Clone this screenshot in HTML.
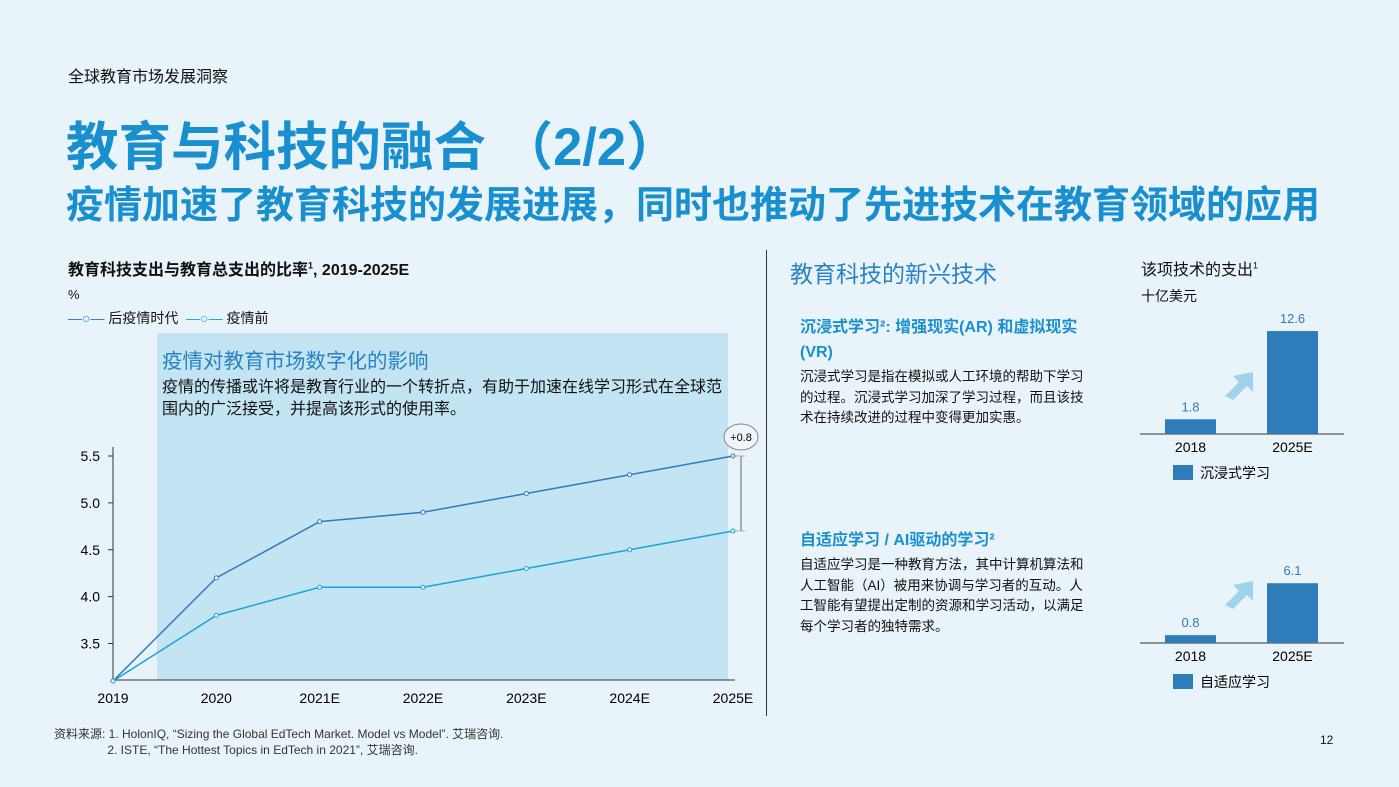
<!DOCTYPE html>
<html><head><meta charset="utf-8">
<style>
body{margin:0;width:1399px;height:787px;overflow:hidden;background:#e8f4f9;font-family:"Liberation Sans","Noto Sans CJK SC",sans-serif;position:relative;color:#111}
.a{position:absolute;white-space:nowrap}
</style></head><body>
<div class="a" style="left:68px;top:63px;font-size:16px">全球教育市场发展洞察</div>
<div class="a" style="left:66px;top:105px;font-size:52.5px;color:#1a8fd0;font-weight:bold">教育与科技的融合 （2/2）</div>
<div class="a" style="left:66px;top:174px;font-size:38px;color:#1a8fd0;font-weight:bold">疫情加速了教育科技的发展进展，同时也推动了先进技术在教育领域的应用</div>
<div class="a" style="left:68px;top:256px;font-size:16px;font-weight:bold">教育科技支出与教育总支出的比率<sup style="font-size:9px">1</sup>, 2019-2025E</div>
<div class="a" style="left:68px;top:287px;font-size:13px">%</div>
<div class="a" style="left:68px;top:308px;font-size:14px">
<span style="color:#2f7cbf">—○—</span> 后疫情时代 &nbsp;<span style="color:#1ba3dc">—○—</span> 疫情前</div>
<svg class="a" id="chart" style="left:0;top:0" width="780" height="720"></svg>
<div class="a" style="left:162px;top:344px;font-size:20.5px;color:#2a82c4">疫情对教育市场数字化的影响</div>
<div class="a" style="left:162px;top:377px;font-size:16px;line-height:22px">疫情的传播或许将是教育行业的一个转折点，有助于加速在线学习形式在全球范<br>围内的广泛接受，并提高该形式的使用率。</div>
<div class="a" style="left:766px;top:250px;width:1px;height:466px;background:#333"></div>
<div class="a" style="left:790px;top:255px;font-size:23px;color:#2a82c4">教育科技的新兴技术</div>
<div class="a" style="left:800px;top:315px;font-size:16px;color:#1a8fd0;line-height:25px;font-weight:bold">沉浸式学习²: 增强现实(AR) 和虚拟现实<br>(VR)</div>
<div class="a" style="left:800px;top:367px;font-size:13.5px;line-height:20.5px">沉浸式学习是指在模拟或人工环境的帮助下学习<br>的过程。沉浸式学习加深了学习过程，而且该技<br>术在持续改进的过程中变得更加实惠。</div>
<div class="a" style="left:800px;top:526px;font-size:16px;color:#1a8fd0;font-weight:bold">自适应学习 / AI驱动的学习²</div>
<div class="a" style="left:800px;top:555px;font-size:13.5px;line-height:20.5px">自适应学习是一种教育方法，其中计算机算法和<br>人工智能（AI）被用来协调与学习者的互动。人<br>工智能有望提出定制的资源和学习活动，以满足<br>每个学习者的独特需求。</div>
<div class="a" style="left:1141px;top:256px;font-size:16px">该项技术的支出<sup style="font-size:9px">1</sup></div>
<div class="a" style="left:1141px;top:286px;font-size:14px">十亿美元</div>
<svg class="a" id="bars" style="left:1120px;top:290px" width="279" height="410"></svg>
<div class="a" style="left:54px;top:726px;font-size:12px;line-height:16px;color:#333">资料来源: 1. HolonIQ, “Sizing the Global EdTech Market. Model vs Model”. 艾瑞咨询.<br>&nbsp;&nbsp;&nbsp;&nbsp;&nbsp;&nbsp;&nbsp;&nbsp;&nbsp;&nbsp;&nbsp;&nbsp;&nbsp;&nbsp;&nbsp;&nbsp;2. ISTE, “The Hottest Topics in EdTech in 2021”, 艾瑞咨询.</div>
<div class="a" style="left:1320px;top:733px;font-size:12px">12</div>
<script>
const cats=["2019","2020","2021E","2022E","2023E","2024E","2025E"];
const post=[3.1,4.2,4.8,4.9,5.1,5.3,5.5];
const pre=[3.1,3.8,4.1,4.1,4.3,4.5,4.7];
const yTicks=[3.5,4.0,4.5,5.0,5.5];
const NS="http://www.w3.org/2000/svg";
function mk(p,t,a){const e=document.createElementNS(NS,t);for(const k in a)e.setAttribute(k,a[k]);p.appendChild(e);return e;}
const s=document.getElementById('chart');
const X=i=>113+i*(733-113)/(cats.length-1);
const Y=v=>643.5-(v-3.5)*93.75;
let r=mk(s,'rect',{x:157,y:333,width:571,height:347,fill:'#c2e4f3'});

mk(s,'line',{x1:113,y1:447,x2:113,y2:680,stroke:'#333'});
mk(s,'line',{x1:113,y1:680,x2:735,y2:680,stroke:'#333'});
yTicks.forEach(v=>{mk(s,'line',{x1:108,y1:Y(v),x2:113,y2:Y(v),stroke:'#333'});
let t=mk(s,'text',{x:100,y:Y(v)+5,'text-anchor':'end','font-size':14});t.textContent=v.toFixed(1);
});
cats.forEach((c,i)=>{let t=mk(s,'text',{x:X(i),y:703,'text-anchor':'middle','font-size':14});t.textContent=c;
});
[[post,'#2f7cbf','post-pandemic-line'],[pre,'#1ba3dc','pre-pandemic-line']].forEach(([d,c,n])=>{
let l=mk(s,'polyline',{points:d.map((v,i)=>X(i)+','+Y(v)).join(' '),fill:'none',stroke:c,'stroke-width':1.5});

d.forEach((v,i)=>{let p=mk(s,'circle',{cx:X(i),cy:Y(v),r:2,fill:'#fff',stroke:c});
});});
const L=cats.length-1;
mk(s,'line',{x1:741,y1:Y(post[L]),x2:741,y2:Y(pre[L]),stroke:'#666'});
mk(s,'line',{x1:733,y1:Y(post[L]),x2:746,y2:Y(post[L]),stroke:'#999','stroke-dasharray':'2 1'});
mk(s,'line',{x1:733,y1:Y(pre[L]),x2:746,y2:Y(pre[L]),stroke:'#999','stroke-dasharray':'2 1'});
mk(s,'ellipse',{cx:741,cy:437,rx:17,ry:13,fill:'#eef6fa',stroke:'#888'});
let dt=mk(s,'text',{x:741,y:441,'text-anchor':'middle','font-size':11});dt.textContent='+'+(post[L]-pre[L]).toFixed(1);


const barCats=["2018","2025E"];
const immersive=[1.8,12.6];
const adaptive=[0.8,6.1];
const b=document.getElementById('bars');
function barChart(vals,base,scale,legend){
 mk(b,'line',{x1:20,y1:base,x2:224,y2:base,stroke:'#333'});
 vals.forEach((v,i)=>{const x=45+i*102,h=v*scale;
  let rr=mk(b,'rect',{x:x,y:base-h,width:51,height:h,fill:'#2f7cbb'});
  
  let t=mk(b,'text',{x:x+25.5,y:base-h-8,'text-anchor':'middle','font-size':13,fill:'#2f7cbb'});t.textContent=v.toFixed(1);
  
  let c=mk(b,'text',{x:x+25.5,y:base+18,'text-anchor':'middle','font-size':14});c.textContent=barCats[i];
  });
 const bx=105,by=base-34;
 mk(b,'polygon',{points:`${bx},${by-4} ${bx+14},${by-18} ${bx+8},${by-24} ${bx+28},${by-28} ${bx+28},${by-8} ${bx+22},${by-14} ${bx+8},${by}`,fill:'#9fd3ec'});
 mk(b,'rect',{x:53,y:base+31,width:20,height:15,fill:'#2f7cbb'});
 let lg=mk(b,'text',{x:80,y:base+44,'font-size':14});lg.textContent=legend;
 
}
barChart(immersive,144,8.17,'沉浸式学习');
barChart(adaptive,353,9.8,'自适应学习');
</script>
</body></html>
